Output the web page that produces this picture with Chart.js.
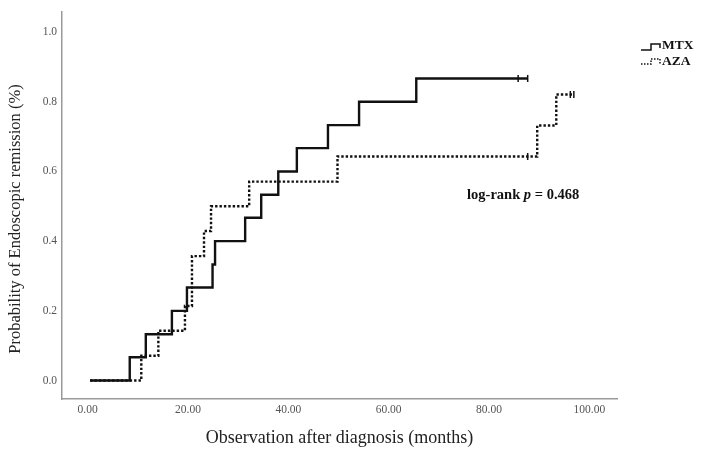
<!DOCTYPE html>
<html><head><meta charset="utf-8">
<script src="https://cdn.jsdelivr.net/npm/chart.js@4.4.0/dist/chart.umd.min.js"></script>
<style>html,body{margin:0;padding:0;background:#fff}#wrap{width:701px;height:452px;position:relative}</style>
</head><body><div id="wrap"><canvas id="c" width="701" height="452"></canvas></div>
<script>
// ---- data ----
const seriesNames = ['MTX', 'AZA'];
const mtxTimes  = [0.5, 8.4, 11.6, 16.8, 19.8, 24.9, 25.4, 31.4, 34.6, 38.0, 41.7, 47.9, 54.1, 65.5, 87.7];
const mtxValues = [0, 0.067, 0.133, 0.200, 0.267, 0.333, 0.400, 0.467, 0.533, 0.600, 0.667, 0.733, 0.800, 0.867, 0.867];
const mtxCensorTimes  = [85.8, 87.7];
const mtxCensorValues = [0.867, 0.867];
const azaTimes  = [0.5, 10.7, 14.1, 19.4, 20.8, 23.2, 24.6, 32.2, 49.8, 89.6, 93.4, 96.9];
const azaValues = [0, 0.071, 0.143, 0.214, 0.357, 0.429, 0.500, 0.571, 0.643, 0.732, 0.821, 0.821];
const azaCensorTimes  = [87.7, 96.2, 96.9];
const azaCensorValues = [0.643, 0.821, 0.821];
const xTicks = [0, 20, 40, 60, 80, 100];
const yTicks = [0, 0.2, 0.4, 0.6, 0.8, 1.0];
const xTitle = 'Observation after diagnosis (months)';
const yTitle = 'Probability of Endoscopic remission (%)';
const statText = ['log-rank ', 'p', ' = 0.468'];

const pts = (xs, ys) => xs.map((x, i) => ({x: x, y: ys[i]}));
const INK = '#111';

const kmDecor = {
  id: 'kmDecor',
  afterDraw(chart) {
    const ctx = chart.ctx;
    ctx.save();
    ctx.strokeStyle = INK;
    ctx.lineWidth = 1.5;
    // MTX glyph (solid step)
    ctx.setLineDash([]);
    ctx.beginPath();
    ctx.moveTo(641, 50); ctx.lineTo(651, 50); ctx.lineTo(651, 44); ctx.lineTo(660, 44); ctx.lineTo(660, 48);
    ctx.stroke();
    // AZA glyph (dotted step)
    ctx.setLineDash([1.5, 1.5]);
    ctx.beginPath();
    ctx.moveTo(641, 64); ctx.lineTo(651, 64); ctx.lineTo(651, 59); ctx.lineTo(660, 59); ctx.lineTo(660, 64);
    ctx.stroke();
    ctx.setLineDash([]);
    ctx.fillStyle = INK;
    ctx.font = 'bold 13.5px "Liberation Serif"';
    ctx.textBaseline = 'middle';
    ctx.textAlign = 'left';
    ctx.fillText(seriesNames[0], 662, 46);
    ctx.fillText(seriesNames[1], 662, 62);
    // log-rank annotation
    const xs = chart.scales.x, ys = chart.scales.y;
    const cx = xs.getPixelForValue(86.8), cy = ys.getPixelForValue(0.531);
    const fN = 'bold 14.5px "Liberation Serif"', fI = 'bold italic 14.5px "Liberation Serif"';
    ctx.font = fN; const w0 = ctx.measureText(statText[0]).width, w2 = ctx.measureText(statText[2]).width;
    ctx.font = fI; const w1 = ctx.measureText(statText[1]).width;
    let x = cx - (w0 + w1 + w2) / 2;
    ctx.font = fN; ctx.fillText(statText[0], x, cy); x += w0;
    ctx.font = fI; ctx.fillText(statText[1], x, cy); x += w1;
    ctx.font = fN; ctx.fillText(statText[2], x, cy);
    // y-axis title
    ctx.fillStyle = '#222';
    ctx.font = '16.5px "Liberation Serif"';
    ctx.textAlign = 'center';
    ctx.translate(16, 219);
    ctx.rotate(-Math.PI / 2);
    ctx.fillText(yTitle, 0, 0);
    ctx.restore();
  }
};

new Chart(document.getElementById('c'), {
  type: 'line',
  data: {
    datasets: [
      { label: seriesNames[0], data: pts(mtxTimes, mtxValues), stepped: 'before',
        borderColor: INK, borderWidth: 2.4, pointRadius: 0, fill: false },
      { label: seriesNames[1], data: pts(azaTimes, azaValues), stepped: 'before',
        borderColor: INK, borderWidth: 2.4, borderDash: [2.4, 2], pointRadius: 0, fill: false },
      { label: seriesNames[0] + ' censored', data: pts(mtxCensorTimes, mtxCensorValues), showLine: false,
        pointStyle: 'line', rotation: 90, pointRadius: 3.5, pointBorderWidth: 1.5, borderColor: INK, backgroundColor: INK },
      { label: seriesNames[1] + ' censored', data: pts(azaCensorTimes, azaCensorValues), showLine: false,
        pointStyle: 'line', rotation: 90, pointRadius: 3.5, pointBorderWidth: 1.5, borderColor: INK, backgroundColor: INK }
    ]
  },
  options: {
    responsive: false,
    animation: false,
    devicePixelRatio: 1,
    layout: { padding: { left: 0, right: 84, top: 9, bottom: 0 } },
    plugins: { legend: { display: false }, tooltip: { enabled: false } },
    scales: {
      x: {
        type: 'linear', min: -5.1, max: 105.5,
        afterBuildTicks: s => { s.ticks = xTicks.map(v => ({value: v})); },
        afterFit: s => { s.height = 53; },
        grid: { display: false, drawTicks: false },
        border: { display: true, color: '#9a9a9a', width: 1.5 },
        ticks: { padding: 4, color: '#555', font: { family: 'Liberation Serif', size: 11.5 },
                 callback: v => Number(v).toFixed(2), maxRotation: 0, autoSkip: false },
        title: { display: true, text: xTitle, color: '#222',
                 font: { family: 'Liberation Serif', size: 18 }, padding: { top: 0, bottom: 3 } }
      },
      y: {
        type: 'linear', min: -0.053, max: 1.058,
        afterBuildTicks: s => { s.ticks = yTicks.map(v => ({value: v})); },
        afterFit: s => { s.width = 62; },
        grid: { display: false, drawTicks: false },
        border: { display: true, color: '#9a9a9a', width: 1.5 },
        ticks: { padding: 5, color: '#555', font: { family: 'Liberation Serif', size: 11.5 },
                 callback: v => Number(v).toFixed(1) }
      }
    }
  },
  plugins: [kmDecor]
});
</script></body></html>
